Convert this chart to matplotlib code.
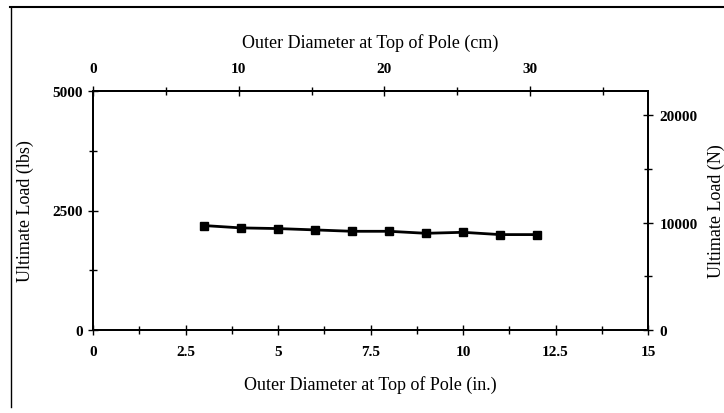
import numpy as np
import matplotlib.pyplot as plt
from matplotlib.ticker import MultipleLocator
from matplotlib.lines import Line2D

# Pole top diameter vs. ultimate load
diam_in = [3, 4, 5, 6, 7, 8, 9, 10, 11, 12]
load_lbs = [2185, 2136, 2122, 2094, 2065, 2065, 2023, 2044, 1996, 1996]

IN_TO_CM = 2.54
LBS_TO_N = 4.448

plt.rcParams['font.family'] = ['Liberation Serif', 'DejaVu Serif']

fig = plt.figure(figsize=(7.24, 4.14), dpi=100)
W, H = 724, 414
ax = fig.add_axes([93 / W, 1 - 331 / H, (648 - 93) / W, (331 - 92) / H])

ax.plot(diam_in, load_lbs, color='black', lw=2, marker='s', markersize=5.5)

ax.set_xlim(0, 15)
ax.set_ylim(0, 5000)
ax.xaxis.set_minor_locator(MultipleLocator(1.25))
ax.yaxis.set_major_locator(MultipleLocator(2500))
ax.yaxis.set_minor_locator(MultipleLocator(1250))
ax.set_xticks([0, 2.5, 5, 7.5, 10, 12.5, 15])
ax.set_xticklabels(['0', '2.5', '5', '7.5', '10', '12.5', '15'])

# cm on top, newtons on the right
ax_top = ax.twiny()
ax_top.set_xlim(0, 15 * IN_TO_CM)
ax_top.xaxis.set_major_locator(MultipleLocator(10))
ax_top.xaxis.set_minor_locator(MultipleLocator(5))

ax_right = ax.twinx()
ax_right.set_ylim(0, 5000 * LBS_TO_N)
ax_right.yaxis.set_major_locator(MultipleLocator(10000))
ax_right.yaxis.set_minor_locator(MultipleLocator(5000))

for a in (ax, ax_top, ax_right):
    for s in a.spines.values():
        s.set_linewidth(1.2)
    a.tick_params(which='major', direction='inout', length=7, width=1, labelsize=11)
    a.tick_params(which='minor', direction='inout', length=6, width=1)
    for lab in a.get_xticklabels() + a.get_yticklabels():
        lab.set_fontweight('bold')

ax.tick_params(axis='x', pad=7)
ax.tick_params(axis='y', pad=4)
ax_top.tick_params(axis='x', pad=8)
ax_right.tick_params(axis='y', pad=5)

ax.set_xlabel('Outer Diameter at Top of Pole (in.)', fontsize=13)
ax.set_ylabel('Ultimate Load (lbs)', fontsize=13)
ax_top.set_xlabel('Outer Diameter at Top of Pole (cm)', fontsize=13)
ax_right.set_ylabel('Ultimate Load (N)', fontsize=13, rotation=90)

ax.xaxis.set_label_coords(0.5, -0.19)
ax.yaxis.set_label_coords(-0.106, 0.5)
ax_top.xaxis.set_label_coords(0.5, 1.185)
ax_right.yaxis.set_label_coords(1.107, 0.5)

# outer frame
fig.add_artist(Line2D([10 / W, 1], [1 - 8 / H, 1 - 8 / H], color='black', lw=1.5))
fig.add_artist(Line2D([11 / W, 11 / W], [1 - 8 / H, 1 - 408 / H], color='black', lw=1))

fig.savefig('out.png', dpi=100)
